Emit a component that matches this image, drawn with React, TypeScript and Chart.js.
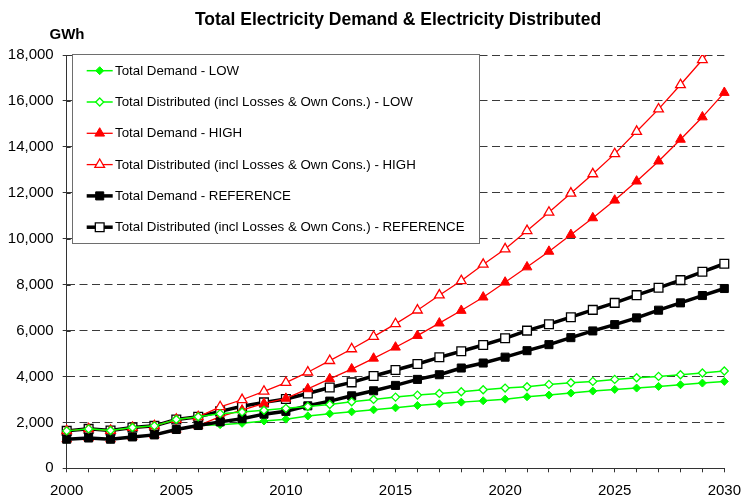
import React, { useEffect, useRef } from "react";
import { Chart, registerables } from "chart.js";
import { drawPoint } from "chart.js/helpers";

Chart.register(...registerables);

const years = [
  "2000", "2001", "2002", "2003", "2004", "2005", "2006", "2007", "2008", "2009", "2010",
  "2011", "2012", "2013", "2014", "2015", "2016", "2017", "2018", "2019", "2020",
  "2021", "2022", "2023", "2024", "2025", "2026", "2027", "2028", "2029", "2030",
];

const lowDemand = [
  1266, 1320, 1266, 1367, 1455, 1690, 1864, 1900, 1960, 2060, 2140,
  2280, 2380, 2460, 2547, 2634, 2736, 2809, 2882, 2940, 3010,
  3115, 3188, 3275, 3363, 3435, 3494, 3567, 3639, 3712, 3785,
];
const lowDistributed = [
  1630, 1717, 1645, 1775, 1848, 2125, 2242, 2380, 2450, 2530, 2610,
  2690, 2780, 2896, 3000, 3100, 3188, 3261, 3334, 3421, 3494,
  3552, 3654, 3726, 3785, 3872, 3945, 4003, 4075, 4149, 4236,
];
const highDemand = [
  1266, 1320, 1266, 1367, 1455, 1690, 1864, 2250, 2533, 2824, 3042,
  3457, 3894, 4323, 4789, 5270, 5778, 6320, 6870, 7452, 8100,
  8764, 9445, 10175, 10903, 11672, 12502, 13375, 14323, 15297, 16363,
];
const highDistributed = [
  1630, 1717, 1645, 1775, 1848, 2125, 2242, 2678, 2985, 3350, 3734,
  4185, 4687, 5197, 5734, 6290, 6886, 7540, 8166, 8880, 9550,
  10346, 11148, 11978, 12820, 13694, 14668, 15642, 16703, 17794, 18950,
];
const refDemand = [
  1266, 1320, 1266, 1367, 1455, 1690, 1864, 2022, 2160, 2358, 2480,
  2721, 2926, 3157, 3376, 3610, 3872, 4075, 4367, 4585, 4840,
  5123, 5385, 5690, 5983, 6258, 6550, 6886, 7205, 7524, 7830,
];
const refDistributed = [
  1630, 1717, 1645, 1775, 1848, 2125, 2242, 2480, 2700, 2870, 3020,
  3260, 3520, 3742, 4018, 4280, 4542, 4834, 5096, 5371, 5660,
  5996, 6276, 6581, 6900, 7205, 7541, 7860, 8196, 8559, 8909,
];

const seriesLabels = [
  "Total Demand - LOW",
  "Total Distributed (incl Losses & Own Cons.) - LOW",
  "Total Demand - HIGH",
  "Total Distributed (incl Losses & Own Cons.) - HIGH",
  "Total Demand - REFERENCE",
  "Total Distributed (incl Losses & Own Cons.) - REFERENCE",
];

const titleText = "Total Electricity Demand & Electricity Distributed";
const unitText = "GWh";
const yMin = 0;
const yMax = 18000;
const yStep = 2000;

const FONT = "'Liberation Sans', Arial, Helvetica, sans-serif";

const decorPlugin = {
  id: "decor",
  afterDraw(chart: any) {
    const ctx = chart.ctx;
    const area = chart.chartArea;
    const yScale = chart.scales.y;
    ctx.save();
    // inner tick marks on y axis
    ctx.strokeStyle = "#333";
    ctx.lineWidth = 1;
    yScale.ticks.forEach((t: any) => {
      const py = Math.round(yScale.getPixelForValue(t.value)) + 0.5;
      ctx.beginPath();
      ctx.moveTo(area.left, py);
      ctx.lineTo(area.left + 4, py);
      ctx.stroke();
    });
    // title
    ctx.fillStyle = "#000";
    ctx.font = `bold 17.5px ${FONT}`;
    ctx.textAlign = "center";
    ctx.textBaseline = "middle";
    ctx.fillText(titleText, 398, 20.5);
    ctx.font = `bold 15px ${FONT}`;
    ctx.textAlign = "left";
    ctx.fillText(unitText, 49.5, 35);

    // legend
    const bx = 72, by = 54, bw = 407, bh = 189;
    ctx.fillStyle = "#ffffff";
    ctx.fillRect(bx, by, bw, bh);
    ctx.strokeStyle = "#6e6e6e";
    ctx.lineWidth = 1;
    ctx.strokeRect(bx + 0.5, by + 0.5, bw, bh);
    chart.data.datasets.forEach((ds: any, i: number) => {
      const cy = 70.7 + 31.3 * i;
      ctx.strokeStyle = ds.borderColor;
      ctx.lineWidth = ds.borderWidth;
      ctx.beginPath();
      ctx.moveTo(86.7, cy);
      ctx.lineTo(112.7, cy);
      ctx.stroke();
      ctx.fillStyle = ds.pointBackgroundColor;
      ctx.strokeStyle = ds.pointBorderColor;
      ctx.lineWidth = ds.pointBorderWidth;
      drawPoint(ctx, { pointStyle: ds.pointStyle, rotation: 0, radius: ds.pointRadius, borderWidth: ds.pointBorderWidth }, 99.7, cy);
      ctx.fillStyle = "#000";
      ctx.font = `13.3px ${FONT}`;
      ctx.textAlign = "left";
      ctx.textBaseline = "middle";
      ctx.fillText(ds.label, 115, cy + 0.5);
    });
    ctx.restore();
  },
};

export default function App() {
  const canvasRef = useRef<HTMLCanvasElement | null>(null);

  useEffect(() => {
    document.body.style.margin = "0";
    const canvas = canvasRef.current;
    if (!canvas) return;
    const mk = (
      i: number,
      data: number[],
      color: string,
      width: number,
      style: string,
      radius: number,
      filled: boolean,
      order: number
    ) => ({
      label: seriesLabels[i],
      data,
      borderColor: color,
      backgroundColor: color,
      borderWidth: width,
      pointStyle: style,
      pointRadius: radius,
      pointHoverRadius: radius,
      pointBackgroundColor: filled ? color : "#ffffff",
      pointBorderColor: color,
      pointBorderWidth: filled ? 1 : 1.3,
      tension: 0,
      fill: false,
      order,
    });

    const chart = new Chart(canvas, {
      type: "line",
      data: {
        labels: years,
        datasets: [
          mk(0, lowDemand, "#00ff00", 1.5, "rectRot", 4, true, 4),
          mk(1, lowDistributed, "#00ff00", 1.5, "rectRot", 4, false, 0),
          mk(2, highDemand, "#ff0000", 1.3, "triangle", 5.6, true, 3),
          mk(3, highDistributed, "#ff0000", 1.3, "triangle", 5.6, false, 1),
          mk(4, refDemand, "#000000", 3.5, "rect", 5.7, true, 2),
          mk(5, refDistributed, "#000000", 3.5, "rect", 6.2, false, 5),
        ] as any,
      },
      options: {
        responsive: false,
        animation: false,
        devicePixelRatio: 1,
        layout: { padding: { top: 55, right: 17.7, left: 0, bottom: 0 } },
        plugins: {
          legend: { display: false },
          title: { display: false },
          tooltip: { enabled: false },
        },
        scales: {
          x: {
            type: "category",
            offset: false,
            afterFit: (s: any) => {
              s.height = 31.7;
            },
            grid: {
              drawOnChartArea: false,
              drawTicks: true,
              tickLength: 4,
              tickColor: "#333",
              offset: false,
            },
            border: { color: "#333", width: 1 },
            ticks: {
              autoSkip: false,
              maxRotation: 0,
              minRotation: 0,
              padding: 10,
              color: "#000",
              font: { family: FONT, size: 15 },
              callback: (_v: any, idx: number) => (Number(years[idx]) % 5 === 0 ? years[idx] : ""),
            },
          },
          y: {
            type: "linear",
            min: yMin,
            max: yMax,
            afterFit: (s: any) => {
              s.width = 66.7;
            },
            grid: {
              color: "#3a3a3a",
              lineWidth: 1,
              drawTicks: true,
              tickLength: 4,
              tickColor: "#333",
            },
            border: { color: "#333", width: 1, dash: [8, 4.5] },
            ticks: {
              stepSize: yStep,
              padding: 9,
              color: "#000",
              font: { family: FONT, size: 15 },
              callback: (v: any) => Number(v).toLocaleString("en-US"),
            },
          },
        },
      } as any,
      plugins: [decorPlugin],
    });
    return () => chart.destroy();
  }, []);

  return (
    <div style={{ width: 751, height: 500 }}>
      <canvas ref={canvasRef} width={751} height={500} style={{ display: "block" }} />
    </div>
  );
}
